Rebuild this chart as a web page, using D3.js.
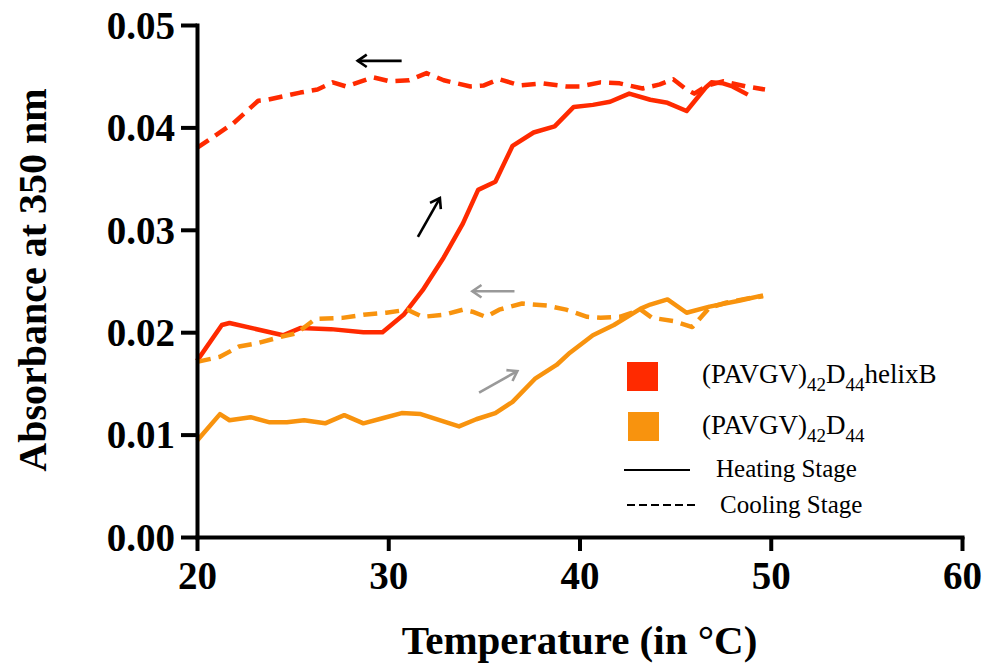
<!DOCTYPE html>
<html>
<head>
<meta charset="utf-8">
<script src="https://cdn.jsdelivr.net/npm/d3@7"></script>
<style>
  body { margin: 0; background: #fff; }
  .axis text { font-family: "Liberation Serif", "Times New Roman", serif; font-weight: bold; fill: #000; }
  .legend text { font-family: "Liberation Serif", "Times New Roman", serif; fill: #000; }
</style>
</head>
<body>
<svg width="988" height="666"></svg>
<script>
// data: temperature (°C) and absorbance at 350 nm
var redHeatT = [20.0, 21.3, 21.7, 24.5, 25.4, 27.0, 28.7, 29.7, 30.8, 31.8, 32.9, 33.9, 34.7, 35.6, 36.5, 37.6, 38.7, 39.7, 40.7, 41.6, 42.6, 43.7, 44.6, 45.6, 46.6, 46.9, 47.5, 48.0, 48.8];
var redHeatA = [0.0172, 0.0207, 0.0209, 0.0197, 0.0204, 0.0203, 0.0200, 0.0200, 0.0217, 0.0241, 0.0273, 0.0306, 0.0339, 0.0347, 0.0382, 0.0395, 0.0401, 0.0420, 0.0422, 0.0425, 0.0433, 0.0427, 0.0424, 0.0416, 0.0439, 0.0444, 0.0443, 0.0440, 0.0432];

var redCoolT = [20.0, 21.9, 23.2, 23.7, 25.4, 26.3, 27.1, 27.8, 29.2, 30.1, 31.1, 32.0, 32.9, 34.3, 35.0, 35.8, 36.9, 38.1, 39.3, 40.0, 41.1, 42.1, 43.3, 44.2, 44.9, 45.6, 46.0, 46.7, 47.5, 48.7, 49.7];
var redCoolA = [0.0380, 0.0404, 0.0426, 0.0427, 0.0434, 0.0437, 0.0444, 0.0440, 0.0449, 0.0445, 0.0446, 0.0453, 0.0446, 0.0440, 0.0441, 0.0447, 0.0441, 0.0443, 0.0440, 0.0440, 0.0444, 0.0443, 0.0438, 0.0442, 0.0447, 0.0437, 0.0433, 0.0441, 0.0445, 0.0440, 0.0437];

var orgHeatT = [20.0, 21.2, 21.7, 22.8, 23.8, 24.7, 25.6, 26.7, 27.7, 28.7, 29.7, 30.7, 31.7, 33.7, 34.6, 35.6, 36.5, 37.7, 38.8, 39.5, 40.7, 41.8, 43.2, 43.7, 44.6, 45.6, 46.8, 48.4, 49.6];
var orgHeatA = [0.0094, 0.0120, 0.0114, 0.0117, 0.0112, 0.0112, 0.0114, 0.0111, 0.0119, 0.0111, 0.0116, 0.0121, 0.0120, 0.0108, 0.0115, 0.0121, 0.0132, 0.0155, 0.0168, 0.0180, 0.0197, 0.0207, 0.0223, 0.0227, 0.0232, 0.0219, 0.0225, 0.0231, 0.0236];

var orgCoolT = [20.0, 21.2, 22.2, 23.1, 24.5, 25.2, 26.2, 27.6, 28.7, 29.9, 31.0, 31.8, 32.9, 33.9, 34.4, 35.1, 35.8, 37.0, 38.3, 39.3, 40.4, 41.1, 42.1, 43.2, 43.8, 44.9, 45.9, 46.8, 47.7, 48.8, 49.6];
var orgCoolA = [0.0171, 0.0176, 0.0186, 0.0189, 0.0196, 0.0199, 0.0213, 0.0214, 0.0217, 0.0219, 0.0222, 0.0215, 0.0217, 0.0222, 0.0220, 0.0215, 0.0222, 0.0228, 0.0226, 0.0222, 0.0215, 0.0214, 0.0215, 0.0222, 0.0214, 0.0211, 0.0205, 0.0224, 0.0229, 0.0233, 0.0235];

var xTicks = [20, 30, 40, 50, 60];
var yTicks = [0, 0.01, 0.02, 0.03, 0.04, 0.05];

// annotation arrows, [t0, a0, t1, a1] in data units
var arrowsBlack = [[30.7, 0.0465, 28.4, 0.0465], [31.55, 0.0293, 32.7, 0.0331]];
var arrowsGray = [[36.6, 0.0240, 34.4, 0.0240], [34.75, 0.0141, 36.75, 0.0162]];

var red = "#ff2a00", orange = "#f8930e";

var svg = d3.select("svg"),
    margin = {top: 25, right: 26, bottom: 129, left: 197},
    width = 988 - margin.left - margin.right,
    height = 666 - margin.top - margin.bottom,
    g = svg.append("g").attr("transform", "translate(" + margin.left + "," + margin.top + ")");

var x = d3.scaleLinear().domain([20, 60]).range([0, width]),
    y = d3.scaleLinear().domain([0, 0.05]).range([height, 0]);

var line = d3.line()
    .x(function(d) { return x(d[0]); })
    .y(function(d) { return y(d[1]); });

function pairs(t, a) { return t.map(function(v, i) { return [v, a[i]]; }); }

var series = [
  {pts: pairs(redHeatT, redHeatA), color: red, dash: null},
  {pts: pairs(redCoolT, redCoolA), color: red, dash: "14,8"},
  {pts: pairs(orgHeatT, orgHeatA), color: orange, dash: null},
  {pts: pairs(orgCoolT, orgCoolA), color: orange, dash: "14,8"}
];

g.selectAll(".series")
  .data(series)
  .enter().append("path")
    .attr("class", "series")
    .attr("d", function(d) { return line(d.pts); })
    .attr("fill", "none")
    .attr("stroke", function(d) { return d.color; })
    .attr("stroke-width", 4.5)
    .attr("stroke-linejoin", "round")
    .attr("stroke-dasharray", function(d) { return d.dash; });

// axes
var xAxis = g.append("g")
    .attr("class", "axis")
    .attr("transform", "translate(0," + height + ")")
    .call(d3.axisBottom(x).tickValues(xTicks).tickSize(14).tickSizeOuter(0).tickPadding(10));
xAxis.selectAll("text").style("font-size", "39px").attr("dy", "0.72em");

var yAxis = g.append("g")
    .attr("class", "axis")
    .call(d3.axisLeft(y).tickValues(yTicks).tickFormat(d3.format(".2f")).tickSize(16).tickSizeOuter(0).tickPadding(6));
yAxis.selectAll("text").style("font-size", "39px").attr("dy", "0.34em");

g.selectAll(".axis path, .axis line").attr("stroke", "#000").attr("stroke-width", 4);
g.selectAll(".axis path").attr("stroke-linecap", "square");

// axis titles
svg.append("text")
    .attr("x", margin.left + x(40))
    .attr("y", 654)
    .attr("text-anchor", "middle")
    .style("font", "bold 41px 'Liberation Serif', serif")
    .text("Temperature (in °C)");

svg.append("text")
    .attr("transform", "translate(46," + 280 + ") rotate(-90)")
    .attr("text-anchor", "middle")
    .style("font", "bold 40px 'Liberation Serif', serif")
    .text("Absorbance at 350 nm");

// arrows
function drawArrow(a, color) {
  var x0 = x(a[0]), y0 = y(a[1]), x1 = x(a[2]), y1 = y(a[3]);
  var ang = Math.atan2(y1 - y0, x1 - x0), h = 11;
  g.append("line")
    .attr("x1", x0).attr("y1", y0).attr("x2", x1).attr("y2", y1)
    .attr("stroke", color).attr("stroke-width", 2.6);
  g.append("path")
    .attr("d", "M" + (x1 - h * Math.cos(ang - 0.6)) + "," + (y1 - h * Math.sin(ang - 0.6)) +
               "L" + x1 + "," + y1 +
               "L" + (x1 - h * Math.cos(ang + 0.6)) + "," + (y1 - h * Math.sin(ang + 0.6)))
    .attr("fill", "none").attr("stroke", color).attr("stroke-width", 2.6)
    .attr("stroke-linejoin", "miter");
}
arrowsBlack.forEach(function(a) { drawArrow(a, "#000"); });
arrowsGray.forEach(function(a) { drawArrow(a, "#999"); });

// legend
var legend = svg.append("g").attr("class", "legend");

legend.append("rect").attr("x", 627).attr("y", 362).attr("width", 31).attr("height", 29).attr("fill", red);
legend.append("rect").attr("x", 628).attr("y", 412).attr("width", 31).attr("height", 29).attr("fill", orange);

function labelWithSubs(yBase, parts) {
  var t = legend.append("text").attr("x", 702).attr("y", yBase).style("font-size", "27px");
  parts.forEach(function(p) {
    t.append("tspan")
      .attr("dy", p.sub ? 8 : (p.back ? -8 : 0))
      .style("font-size", p.sub ? "19px" : "27px")
      .text(p.s);
  });
}
labelWithSubs(383, [{s: "(PAVGV)"}, {s: "42", sub: true}, {s: "D", back: true}, {s: "44", sub: true}, {s: "helixB", back: true}]);
labelWithSubs(434, [{s: "(PAVGV)"}, {s: "42", sub: true}, {s: "D", back: true}, {s: "44", sub: true}]);

legend.append("line").attr("x1", 624).attr("x2", 690).attr("y1", 470).attr("y2", 470)
    .attr("stroke", "#000").attr("stroke-width", 2);
legend.append("line").attr("x1", 627).attr("x2", 695).attr("y1", 505).attr("y2", 505)
    .attr("stroke", "#000").attr("stroke-width", 2).attr("stroke-dasharray", "8,4");

legend.append("text").attr("x", 716).attr("y", 477).style("font-size", "25px").text("Heating Stage");
legend.append("text").attr("x", 720).attr("y", 513).style("font-size", "25px").text("Cooling Stage");
</script>
</body>
</html>
